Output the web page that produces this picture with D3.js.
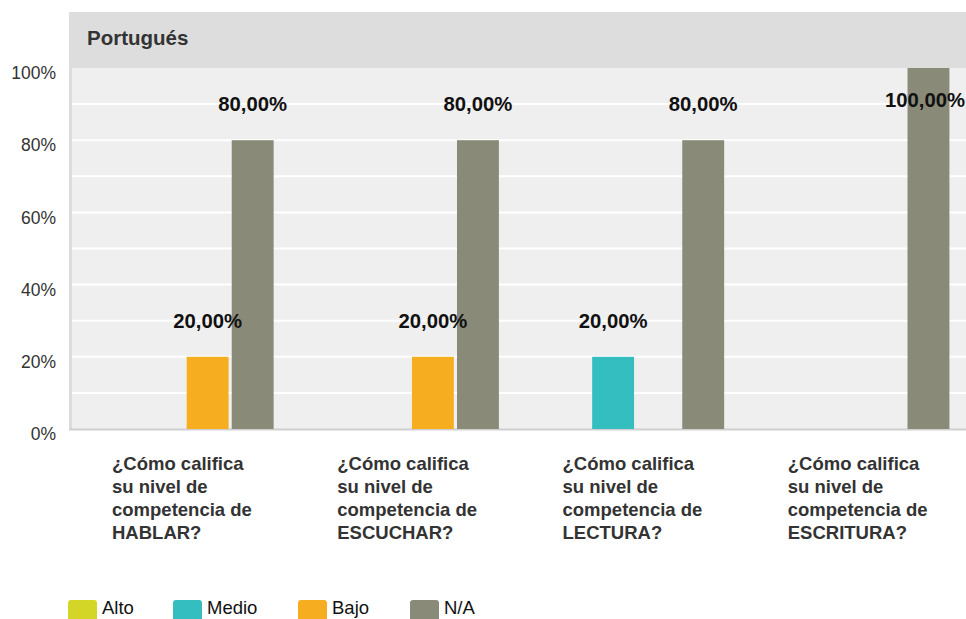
<!DOCTYPE html>
<html><head><meta charset="utf-8">
<script src="https://cdn.jsdelivr.net/npm/d3@7"></script>
<style>body{margin:0;background:#fff;overflow:hidden}svg{display:block;font-family:Arial,"Liberation Sans",Helvetica,sans-serif}</style>
</head><body><svg id="c" width="966" height="619"></svg>
<script>
const title = "Portugués";
const categories = [
  "¿Cómo califica su nivel de competencia de HABLAR?",
  "¿Cómo califica su nivel de competencia de ESCUCHAR?",
  "¿Cómo califica su nivel de competencia de LECTURA?",
  "¿Cómo califica su nivel de competencia de ESCRITURA?"
];
const seriesNames = ["Alto", "Medio", "Bajo", "N/A"];
const seriesColors = ["#d3d527", "#34bec0", "#f6ae20", "#8a8a78"];
const alto  = [0, 0, 0, 0];
const medio = [0, 0, 20, 0];
const bajo  = [20, 20, 0, 0];
const na    = [80, 80, 80, 100];
const yTicks = [0, 20, 40, 60, 80, 100];

const seriesValues = [alto, medio, bajo, na];
const svg = d3.select("#c");
const plotL = 72, plotR = 978, plotT = 68, plotB = 429;

svg.append("rect").attr("x", 69).attr("y", 12).attr("width", 966 - 69).attr("height", plotT - 12).attr("fill", "#dddddd");
svg.append("text").attr("x", 87).attr("y", 45).attr("font-size", 20.5).attr("font-weight", "bold").attr("fill", "#333").text(title);

svg.append("rect").attr("x", plotL).attr("y", plotT).attr("width", plotR - plotL).attr("height", plotB - plotT).attr("fill", "#efefef");

const y = d3.scaleLinear().domain([0, 100]).range([plotB, plotT]);
svg.append("g").selectAll("line").data(d3.range(10, 100, 10)).join("line")
  .attr("x1", plotL).attr("x2", plotR).attr("y1", d => y(d)).attr("y2", d => y(d))
  .attr("stroke", "#fff").attr("stroke-width", 2);

svg.append("line").attr("x1", 70.5).attr("x2", 70.5).attr("y1", plotT).attr("y2", plotB + 1).attr("stroke", "#dcdcdc").attr("stroke-width", 3);
svg.append("line").attr("x1", 69).attr("x2", plotR).attr("y1", plotB + 0.5).attr("y2", plotB + 0.5).attr("stroke", "#d0d0d0").attr("stroke-width", 2);

const yAxis = d3.axisLeft(y).tickValues(yTicks).tickFormat(d => d + "%").tickSize(0).tickPadding(0);
const ya = svg.append("g").attr("transform", "translate(56,0)").call(yAxis);
ya.select(".domain").remove();
ya.selectAll("text").attr("font-size", 17.5).attr("fill", "#333").attr("font-family", "Arial,\"Liberation Sans\",sans-serif").attr("dy", "0.95em").attr("y", -6);

const x0 = d3.scaleBand().domain(categories).range([plotL - 2, plotR - 2]).paddingInner(0.2).paddingOuter(0.111);
const x1 = d3.scaleBand().domain(seriesNames).range([0, x0.bandwidth()]).paddingInner(0.07).paddingOuter(0.035);

const data = [];
categories.forEach((c, i) => seriesNames.forEach((s, j) => data.push({c, s, j, v: seriesValues[j][i]})));

svg.append("g").selectAll("rect").data(data.filter(d => d.v > 0)).join("rect")
  .attr("x", d => x0(d.c) + x1(d.s)).attr("width", x1.bandwidth())
  .attr("y", d => y(d.v)).attr("height", d => y(0) - y(d.v))
  .attr("fill", d => seriesColors[d.j]);

svg.append("g").selectAll("text").data(data.filter(d => d.v > 0)).join("text")
  .attr("font-size", 20.3).attr("font-weight", "bold").attr("fill", "#111").attr("text-anchor", "middle")
  .text(d => d3.format(".2f")(d.v).replace(".", ",") + "%")
  .each(function(d) {
    const w = this.getComputedTextLength();
    let cx = x0(d.c) + x1(d.s) + x1.bandwidth() / 2;
    cx = Math.min(cx, 965 - w / 2);
    let ty = y(d.v) - 29;
    ty = Math.max(ty, plotT + 39);
    d3.select(this).attr("x", cx).attr("y", ty);
  });

svg.append("g").selectAll("text").data(categories).join("text")
  .attr("font-size", 18.5).attr("font-weight", "bold").attr("fill", "#333")
  .attr("x", d => x0(d) + 17).attr("y", 470)
  .each(function(d) {
    const t = d3.select(this);
    const words = d.split(" ");
    let line = [];
    let ts = t.append("tspan").attr("x", t.attr("x")).attr("dy", 0);
    words.forEach(w => {
      line.push(w);
      ts.text(line.join(" "));
      if (ts.node().getComputedTextLength() > 150 && line.length > 1) {
        line.pop();
        ts.text(line.join(" "));
        line = [w];
        ts = t.append("tspan").attr("x", t.attr("x")).attr("dy", 23).text(w);
      }
    });
  });

const legendX = [68, 173, 298, 410];
const lg = svg.append("g").selectAll("g").data(seriesNames).join("g")
  .attr("transform", (d, i) => `translate(${legendX[i]},600)`);
lg.append("rect").attr("width", 29).attr("height", 24).attr("rx", 3).attr("fill", (d, i) => seriesColors[i]);
lg.append("text").attr("x", 34).attr("y", 14).attr("font-size", 18.5).attr("fill", "#111").text(d => d);
</script></body></html>
